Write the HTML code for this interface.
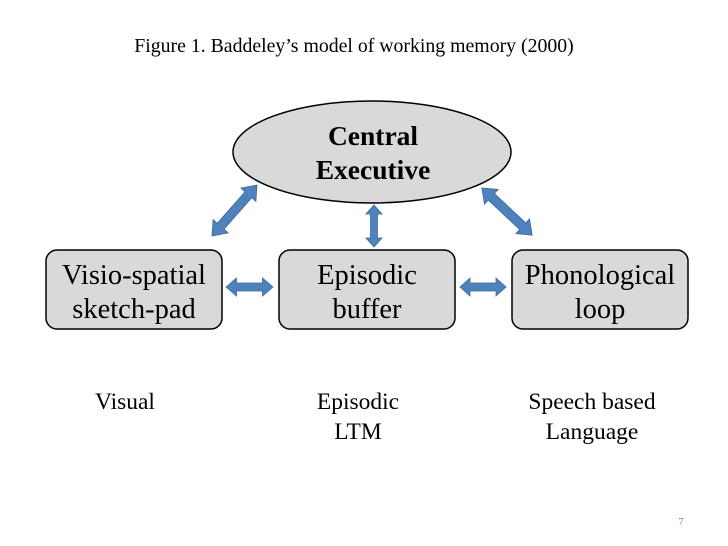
<!DOCTYPE html>
<html><head><meta charset="utf-8"><style>
html,body{margin:0;padding:0;background:#fff;}
svg{display:block}
text{font-family:"Liberation Serif",serif;fill:#000}
</style></head><body>
<svg width="728" height="546" viewBox="0 0 728 546" xmlns="http://www.w3.org/2000/svg">
<text x="354" y="52" font-size="19.8" text-anchor="middle">Figure 1. Baddeley’s model of working memory (2000)</text>
<ellipse cx="372" cy="152" rx="139" ry="51" fill="#d9d9d9" stroke="#000" stroke-width="1.5"/>
<text x="373" y="145" font-size="27.5" font-weight="bold" text-anchor="middle">Central</text>
<text x="373" y="179" font-size="27.5" font-weight="bold" text-anchor="middle">Executive</text>
<rect x="46" y="250" width="176" height="79" rx="11" fill="#d9d9d9" stroke="#000" stroke-width="1.5"/>
<rect x="279" y="250" width="176" height="79" rx="11" fill="#d9d9d9" stroke="#000" stroke-width="1.5"/>
<rect x="512" y="250" width="176" height="79" rx="11" fill="#d9d9d9" stroke="#000" stroke-width="1.5"/>
<g font-size="28.5" text-anchor="middle">
<text x="134" y="284">Visio-spatial</text><text x="134" y="318">sketch-pad</text>
<text x="367" y="284">Episodic</text><text x="367" y="318">buffer</text>
<text x="600" y="284">Phonological</text><text x="600" y="318">loop</text>
</g>
<g fill="#4f81bd" stroke="#3a6aa0" stroke-width="0.8">
<polygon transform="translate(234.5,210.5) rotate(-48.6)" points="-34,0 -21,-10 -21,-4.5 21,-4.5 21,-10 34,0 21,10 21,4.5 -21,4.5 -21,10"/>
<polygon transform="translate(507,211.5) rotate(43.2)" points="-34.5,0 -21.5,-10 -21.5,-4.5 21.5,-4.5 21.5,-10 34.5,0 21.5,10 21.5,4.5 -21.5,4.5 -21.5,10"/>
<polygon transform="translate(374,226) rotate(90)" points="-21,0 -12,-8 -12,-3.5 12,-3.5 12,-8 21,0 12,8 12,3.5 -12,3.5 -12,8"/>
<polygon transform="translate(249.5,287)" points="-23.5,0 -13,-9 -13,-4 13,-4 13,-9 23.5,0 13,9 13,4 -13,4 -13,9"/>
<polygon transform="translate(483,287)" points="-23,0 -13,-9 -13,-4 13,-4 13,-9 23,0 13,9 13,4 -13,4 -13,9"/>
</g>
<g font-size="23.5" text-anchor="middle">
<text x="125" y="409">Visual</text>
<text x="358" y="409">Episodic</text><text x="358" y="439">LTM</text>
<text x="592" y="409">Speech based</text><text x="592" y="439">Language</text>
</g>
<text x="681" y="525" font-size="11" style="fill:#888" font-family="Liberation Sans, sans-serif" text-anchor="middle">7</text>
</svg>
</body></html>
